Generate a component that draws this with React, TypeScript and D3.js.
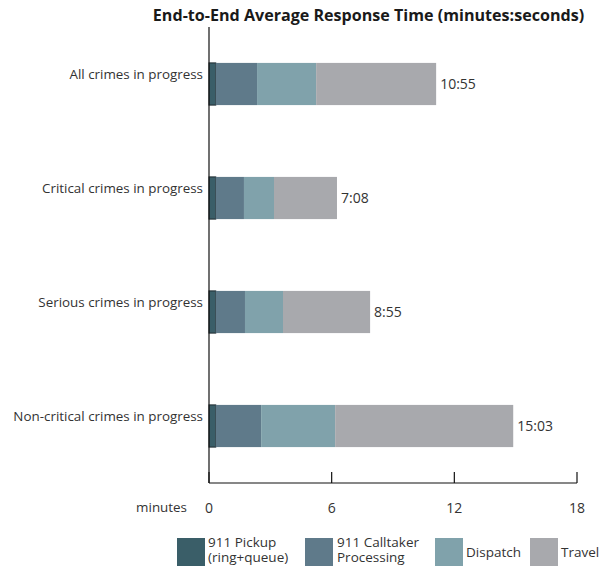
import React from "react";
import * as d3 from "d3";

const categories = [
  "All crimes in progress",
  "Critical crimes in progress",
  "Serious crimes in progress",
  "Non-critical crimes in progress",
];
const seriesNames = ["911 Pickup (ring+queue)", "911 Calltaker Processing", "Dispatch", "Travel"];
const pickup = [0.33, 0.33, 0.33, 0.33];
const calltaker = [2.02, 1.38, 1.43, 2.22];
const dispatch = [2.89, 1.47, 1.86, 3.62];
const travel = [5.87, 3.08, 4.26, 8.71];
const totalLabels = ["10:55", "7:08", "8:55", "15:03"];
const xTicks = [0, 6, 12, 18];
const colors = ["#3a5e68", "#5f7a8a", "#80a2ab", "#a8a9ad"];

const FONT = "'Open Sans', sans-serif";

export default function App() {
  const W = 608, H = 569;
  const x = d3.scaleLinear().domain([0, 18]).range([209, 577]);
  const y = d3.scaleBand().domain(categories).range([27, 483]).paddingInner(0.63).paddingOuter(0.315);
  const rows = categories.map((c, i) => ({ cat: c, pickup: pickup[i], calltaker: calltaker[i], dispatch: dispatch[i], travel: travel[i] }));
  const stack = d3.stack<any>().keys(["pickup", "calltaker", "dispatch", "travel"])(rows);
  const bh = y.bandwidth();
  return (
    <svg width={W} height={H} style={{ position: "absolute", left: 0, top: 0, background: "#fff" }} fontFamily={FONT}>
      <text x={368.5} y={21} textAnchor="middle" fontSize={16.1} fontWeight="bold" fill="#1a1a1a">
        End-to-End Average Response Time (minutes:seconds)
      </text>
      {stack.map((s, si) => (
        <g key={si}>
          {s.map((d, i) => (
            <rect
              key={i}
              x={x(d[0])}
              y={y(categories[i])!}
              width={x(d[1]) - x(d[0])}
              height={bh}
              fill={colors[si]}
              stroke={si === 0 ? "#1e2b30" : "none"}
              strokeWidth={si === 0 ? 1 : 0}
            />
          ))}
        </g>
      ))}
      {categories.map((c, i) => {
        const end = pickup[i] + calltaker[i] + dispatch[i] + travel[i];
        const cy = y(c)! + bh / 2;
        return (
          <g key={c}>
            <text x={203} y={cy - 5} textAnchor="end" fontSize={13.4} fill="#333">{c}</text>
            <text x={x(end) + 4} y={cy + 5} fontSize={14} fill="#333">{totalLabels[i]}</text>
          </g>
        );
      })}
      <line x1={209} x2={209} y1={27} y2={483} stroke="#111" strokeWidth={1.2} />
      <line x1={209} x2={577} y1={483} y2={483} stroke="#111" strokeWidth={1.2} />
      {xTicks.map((t) => (
        <g key={t}>
          <line x1={x(t)} x2={x(t)} y1={472} y2={483} stroke="#111" strokeWidth={1.2} />
          <text x={x(t)} y={513} textAnchor="middle" fontSize={14} fill="#333">{t}</text>
        </g>
      ))}
      <text x={187} y={512} textAnchor="end" fontSize={13.4} fill="#333">minutes</text>
      {[
        { x: 177, tx: 208, lines: ["911 Pickup", "(ring+queue)"] },
        { x: 305, tx: 337, lines: ["911 Calltaker", "Processing"] },
        { x: 435, tx: 466, lines: ["Dispatch"] },
        { x: 530, tx: 561, lines: ["Travel"] },
      ].map((l, i) => (
        <g key={i}>
          <rect x={l.x} y={538} width={28} height={28} fill={colors[i]} />
          {l.lines.length === 2 ? (
            <>
              <text x={l.tx} y={547} fontSize={13.5} fill="#333">{l.lines[0]}</text>
              <text x={l.tx} y={562} fontSize={13.5} fill="#333">{l.lines[1]}</text>
            </>
          ) : (
            <text x={l.tx} y={557} fontSize={13.5} fill="#333">{l.lines[0]}</text>
          )}
        </g>
      ))}
    </svg>
  );
}
